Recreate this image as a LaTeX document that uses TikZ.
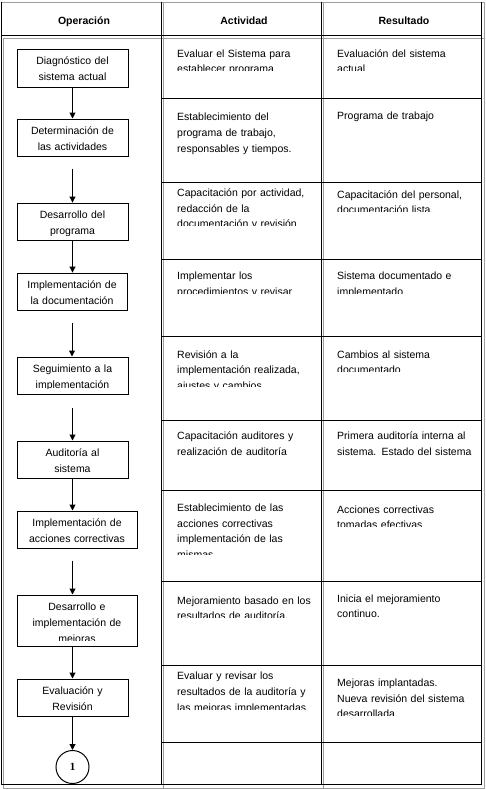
\documentclass[tikz,border=0pt]{standalone}
\usepackage{fontspec}
\setmainfont{Liberation Sans}
\newfontfamily\onefont{Liberation Serif}
\usetikzlibrary{arrows.meta,calc}
\begin{document}
\begin{tikzpicture}[x=1pt,y=-1pt,
  tline/.style={line width=1pt,black},
  gline/.style={line width=1pt,black!38},
  txt/.style={font=\fontsize{10.5}{15.8}\selectfont},
  cell/.style={txt,anchor=base west,inner sep=0pt,text width=150pt,align=left},
  hdr/.style={font=\bfseries\fontsize{10.5}{12}\selectfont,anchor=base,inner sep=0pt},
  opbox/.style={draw,line width=1pt,inner sep=0pt,minimum width=111pt,minimum height=37pt,
     path picture={\clip ([yshift=5.5pt]path picture bounding box.south west) rectangle (path picture bounding box.north east);
     \node[txt,anchor=base,inner sep=0pt,text width=130pt,align=center] at ([yshift=-15.7pt]path picture bounding box.north) {#1};}},
  flow/.style={line width=1pt,-{Triangle[width=6pt,length=6pt]}}
]
\useasboundingbox (0,0) rectangle (486,790);
\fill[white] (0,0) rectangle (486,790);
% grey lines
\draw[gline] (1,2) -- (484,2);
\draw[gline] (3,38) -- (484,38);
\draw[gline] (3,38) -- (3,788) -- (484,788) -- (484,2);
\draw[gline] (163.5,2) -- (163.5,788);
\draw[gline] (323.5,2) -- (323.5,788);
% black lines
\draw[tline] (1,2) -- (1,784) -- (481,784) -- (481,2);
\draw[tline] (1,35) -- (481,35);
\draw[tline] (161,2) -- (161,784);
\draw[tline] (321,2) -- (321,784);
\foreach \yy in {98,182.5,259.5,336.5,420.5,490,581.5,665.5,742.5}
  \draw[tline] (161,\yy) -- (481,\yy);
% headers
\node[hdr] (h1) at (84,24) {Operación};
\node[hdr] (h2) at (244,24) {Actividad};
\node[hdr] (h3) at (404,24) {Resultado};
% operation boxes
\node[opbox={Diagnóstico del\\sistema actual}, minimum height=38pt] (b1) at (72.5,68) {};
\node[opbox={Determinación de\\las actividades}] (b2) at (72.5,137.5) {};
\node[opbox={Desarrollo del\\programa}, minimum height=37.5pt] (b3) at (72.5,221.8) {};
\node[opbox={Implementación de\\la documentación}, minimum height=37.5pt, minimum width=110pt] (b4) at (72,291.8) {};
\node[opbox={Seguimiento a la\\implementación}] (b5) at (72.5,375.5) {};
\node[opbox={Auditoría al\\sistema}] (b6) at (72.5,459.5) {};
\node[opbox={Implementación de\\acciones correctivas}, minimum width=120pt] (b7) at (77,529.5) {};
\node[opbox={Desarrollo e\\implementación de\\mejoras}, minimum width=120pt, minimum height=51pt] (b8) at (77,620.5) {};
\node[opbox={Evaluación y\\Revisión}] (b9) at (72.5,697.5) {};
\node[draw,circle,line width=1pt,minimum size=33pt,inner sep=0pt,font=\onefont\bfseries\fontsize{11}{13}\selectfont] (c1) at (72.5,767) {1};
% connectors
\draw[flow] (b1.south) -- (b1.south |- b2.north);
\draw[flow,shorten <=12pt] (b2.south) -- (b2.south |- b3.north);
\draw[flow] (b3.south) -- (b3.south |- b4.north);
\draw[flow,shorten <=12pt] (b4.south) -- (b4.south |- b5.north);
\draw[flow,shorten <=13pt] (b5.south) -- (b5.south |- b6.north);
\draw[flow] (b6.south) -- (b6.south |- b7.north);
\draw[flow,shorten <=12pt] (b6.south |- b7.south) -- (b6.south |- b8.north);
\draw[flow] (b6.south |- b8.south) -- (b9.north);
\draw[flow] (b9.south) -- (c1.north);
% Actividad column
\begin{scope}\clip (163,38) rectangle (320,70.5);
\node[cell] (a1) at (177,57) {Evaluar el Sistema para\\establecer programa};\end{scope}
\node[cell] (a2) at (177,120.7) {Establecimiento del\\programa de trabajo,\\responsables y tiempos.};
\begin{scope}\clip (163,183) rectangle (320,225);
\node[cell] (a3) at (177,196.3) {Capacitación por actividad,\\redacción de la\\documentación y revisión};\end{scope}
\begin{scope}\clip (163,260) rectangle (320,293);
\node[cell] (a4) at (177,279.7) {Implementar los\\procedimientos y revisar};\end{scope}
\begin{scope}\clip (163,337) rectangle (320,386.7);
\node[cell] (a5) at (177,358) {Revisión a la\\implementación realizada,\\ajustes y cambios};\end{scope}
\node[cell] (a6) at (177,439.7) {Capacitación auditores y\\realización de auditoría};
\begin{scope}\clip (163,491) rectangle (320,554);
\node[cell] (a7) at (177,511.3) {Establecimiento de las\\acciones correctivas\\implementación de las\\mismas};\end{scope}
\begin{scope}\clip (163,582) rectangle (320,617);
\node[cell] (a8) at (177,604) {Mejoramiento basado en los\\resultados de auditoría.};\end{scope}
\begin{scope}\clip (163,666) rectangle (320,709.3);
\node[cell] (a9) at (177,679.7) {Evaluar y revisar los\\resultados de la auditoría y\\las mejoras implementadas};\end{scope}
% Resultado column
\begin{scope}\clip (323,38) rectangle (480,70.5);
\node[cell] (r1) at (337,57) {Evaluación del sistema\\actual};\end{scope}
\node[cell] (r2) at (337,119.7) {Programa de trabajo};
\begin{scope}\clip (323,183) rectangle (480,211);
\node[cell] (r3) at (337,198) {Capacitación del personal,\\documentación lista.};\end{scope}
\begin{scope}\clip (323,260) rectangle (480,293);
\node[cell] (r4) at (337,279.7) {Sistema documentado e\\implementado};\end{scope}
\begin{scope}\clip (323,337) rectangle (480,371);
\node[cell] (r5) at (337,358) {Cambios al sistema\\documentado};\end{scope}
\node[cell] (r6) at (337,439.7) {Primera auditoría interna al\\sistema. Estado del sistema};
\begin{scope}\clip (323,491) rectangle (480,526);
\node[cell] (r7) at (337,513) {Acciones correctivas\\tomadas efectivas};\end{scope}
\node[cell] (r8) at (337,602) {Inicia el mejoramiento\\continuo.};
\begin{scope}\clip (323,666) rectangle (480,715);
\node[cell] (r9) at (337,686.3) {Mejoras implantadas.\\Nueva revisión del sistema\\desarrollada};\end{scope}
\end{tikzpicture}
\end{document}
